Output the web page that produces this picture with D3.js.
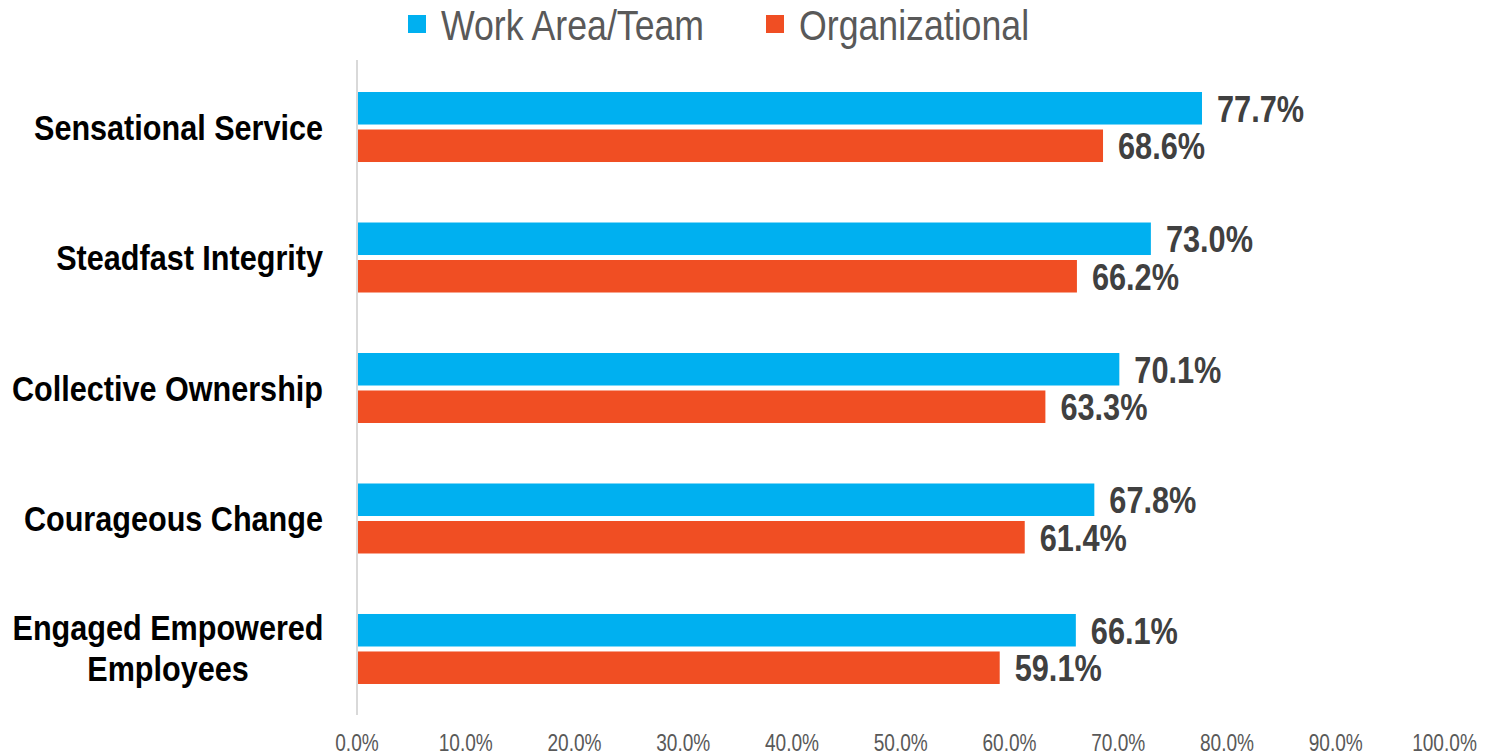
<!DOCTYPE html>
<html>
<head>
<meta charset="utf-8">
<script src="https://cdn.jsdelivr.net/npm/d3@7"></script>
<style>
  body { margin: 0; background: #fff; }
  svg { display: block; }
  text { font-family: "Liberation Sans Narrow", "Arial Narrow", "Liberation Sans", Arial, sans-serif; }
</style>
</head>
<body>
<script>
"use strict";

const WIDTH = 1488
const HEIGHT = 755
const NARROW = 0.83 // squeeze regular sans into a narrow look

// data
const categories = ["Sensational Service", "Steadfast Integrity", "Collective Ownership", "Courageous Change", "Engaged Empowered Employees"]
const work_area = [77.7, 73.0, 70.1, 67.8, 66.1]
const organizational = [68.6, 66.2, 63.3, 61.4, 59.1]
const series_names = ["Work Area/Team", "Organizational"]
const series_colors = ["#00B0F0", "#F04E23"]
const x_ticks = [0, 10, 20, 30, 40, 50, 60, 70, 80, 90, 100]

const svg = d3.select("body").append("svg")
    .attr("width", WIDTH)
    .attr("height", HEIGHT)

const x = d3.scaleLinear()
    .domain([0, 100])
    .range([357, 1444.5])

const y = d3.scaleBand()
    .domain(categories)
    .range([62, 714])
    .paddingInner(0.4636)
    .paddingOuter(0.23)

const sub = d3.scaleBand()
    .domain(series_names)
    .range([0, y.bandwidth()])
    .paddingInner(0.133)

// text placed at (tx, ty) and squeezed horizontally
function ntext(sel, tx, ty, k = NARROW) {
    return sel.attr("transform", function (d, i) {
        const px = typeof tx === "function" ? tx(d, i) : tx
        const py = typeof ty === "function" ? ty(d, i) : ty
        return `translate(${px},${py}) scale(${k},1)`
    })
}

const rows = categories.map((c, i) => ({ cat: c, vals: [work_area[i], organizational[i]] }))

// bars
const groups = svg.append("g").selectAll("g")
    .data(rows)
    .join("g")
    .attr("transform", d => `translate(0,${y(d.cat)})`)

groups.selectAll("rect")
    .data(d => d.vals.map((v, j) => ({ v, j })))
    .join("rect")
    .attr("x", x(0))
    .attr("y", d => sub(series_names[d.j]))
    .attr("width", d => x(d.v) - x(0))
    .attr("height", sub.bandwidth())
    .attr("fill", d => series_colors[d.j])

groups.selectAll("text.val")
    .data(d => d.vals.map((v, j) => ({ v, j })))
    .join("text")
    .attr("class", "val")
    .call(ntext, d => x(d.v) + 15, d => sub(series_names[d.j]) + sub.bandwidth() / 2)
    .attr("dy", "0.36em")
    .attr("font-size", 37)
    .attr("font-weight", "bold")
    .attr("fill", "#404040")
    .text(d => d.v.toFixed(1) + "%")

// vertical axis line
svg.append("line")
    .attr("x1", x(0)).attr("x2", x(0))
    .attr("y1", 60).attr("y2", 715)
    .attr("stroke", "#D9D9D9")
    .attr("stroke-width", 2)

// category labels
svg.append("g").selectAll("text")
    .data(rows)
    .join("text")
    .attr("font-size", 36)
    .attr("font-weight", "bold")
    .attr("fill", "#000")
    .each(function (d) {
        const t = d3.select(this)
        const cy = y(d.cat) + y.bandwidth() / 2
        if (d.cat === "Engaged Empowered Employees") {
            t.call(ntext, 168, cy, 0.85).attr("text-anchor", "middle")
            t.append("tspan").attr("x", 0).attr("y", -9).text("Engaged Empowered")
            t.append("tspan").attr("x", 0).attr("y", 32).text("Employees")
        } else {
            t.call(ntext, 323, cy, 0.85)
                .attr("text-anchor", "end")
                .attr("dy", "0.36em")
                .text(d.cat)
        }
    })

// x tick labels
svg.append("g").selectAll("text")
    .data(x_ticks)
    .join("text")
    .call(ntext, d => x(d), 743)
    .attr("dy", "0.36em")
    .attr("text-anchor", "middle")
    .attr("font-size", 23)
    .attr("fill", "#595959")
    .text(d => d.toFixed(1) + "%")

// legend
const legend_x = [408, 766]
const legend = svg.append("g").selectAll("g")
    .data(series_names)
    .join("g")
    .attr("transform", (d, i) => `translate(${legend_x[i]},0)`)

legend.append("rect")
    .attr("x", 0).attr("y", 15)
    .attr("width", 18).attr("height", 18)
    .attr("fill", (d, i) => series_colors[i])

legend.append("text")
    .call(ntext, 33, 25)
    .attr("dy", "0.36em")
    .attr("font-size", 43)
    .attr("fill", "#595959")
    .text(d => d)
</script>
</body>
</html>
